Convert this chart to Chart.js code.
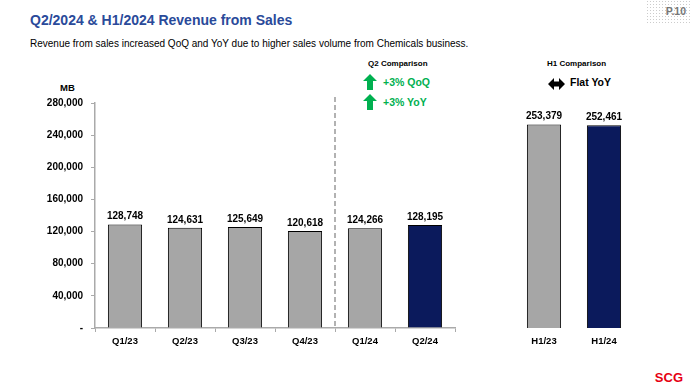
<!DOCTYPE html>
<html>
<head>
<meta charset="utf-8">
<script src="https://cdn.jsdelivr.net/npm/chart.js@4.4.0/dist/chart.umd.min.js"></script>
<style>
  body { margin: 0; width: 690px; height: 389px; background: #fff; font-family: Arial, "Liberation Sans", sans-serif; position: relative; overflow: hidden; }
  .abs { position: absolute; white-space: nowrap; }
  #title { left: 30px; top: 12px; font-size: 14px; font-weight: bold; color: #2a4a9a; }
  #sub { left: 30px; top: 38px; font-size: 10px; color: #000; }
  #page { right: 0; top: 0; width: 44px; height: 24px; font-size: 10.5px; font-weight: bold; color: #777;
    background-image: radial-gradient(#ccc 0.8px, transparent 0.9px); background-size: 3px 3px; text-align: right; padding-right: 4px; line-height: 22px; box-sizing: border-box; }
  #scg { right: 7px; top: 370px; font-size: 13px; font-weight: bold; color: #e60012; }
  #mb { left: 60px; top: 82px; font-size: 9.5px; font-weight: bold; }
  .cmp { font-size: 8px; font-weight: bold; color: #000; }
  .grn { font-size: 10.5px; font-weight: bold; color: #00b050; }
  .blk { font-size: 10.5px; font-weight: bold; color: #000; }
  canvas { position: absolute; top: 0; }
</style>
</head>
<body>
<div class="abs" id="title">Q2/2024 &amp; H1/2024 Revenue from Sales</div>
<div class="abs" id="sub">Revenue from sales increased QoQ and YoY due to higher sales volume from Chemicals business.</div>
<div class="abs" id="page">P.10</div>
<div class="abs" id="mb">MB</div>
<div class="abs cmp" style="left:368px; top:59px;">Q2 Comparison</div>
<div class="abs" style="left:363px; top:74px;"><svg width="14" height="16"><polygon points="7,0 14,7 10,7 10,16 4,16 4,7 0,7" fill="#00b050"/></svg></div>
<div class="abs grn" style="left:383px; top:76px;">+3% QoQ</div>
<div class="abs" style="left:363px; top:94px;"><svg width="14" height="16"><polygon points="7,0 14,7 10,7 10,16 4,16 4,7 0,7" fill="#00b050"/></svg></div>
<div class="abs grn" style="left:383px; top:96px;">+3% YoY</div>
<div class="abs cmp" style="left:547px; top:59px;">H1 Comparison</div>
<div class="abs" style="left:548px; top:76px;"><svg width="17" height="12"><polygon points="0,6 6,0 6,3.5 11,3.5 11,0 17,6 11,12 11,8.5 6,8.5 6,12" fill="#000"/></svg></div>
<div class="abs blk" style="left:570px; top:76px;">Flat YoY</div>
<div class="abs" id="scg">SCG</div>

<canvas id="qChart" style="left:0;"></canvas>
<canvas id="hChart" style="left:470px;"></canvas>

<script>
var quarterLabels = ["Q1/23", "Q2/23", "Q3/23", "Q4/23", "Q1/24", "Q2/24"];
var quarterValues = [128748, 124631, 125649, 120618, 124266, 128195];
var halfLabels = ["H1/23", "H1/24"];
var halfValues = [253379, 252461];
var yTicks = [0, 40000, 80000, 120000, 160000, 200000, 240000, 280000];

var gray = "#a6a6a6";
var navy = "#0b1a5c";
var fontFam = "Arial, 'Liberation Sans', sans-serif";

function fmt(v) {
    return v.toLocaleString("en-US");
}

// value labels above each bar
var valueLabels = {
    id: "valueLabels",
    afterDatasetsDraw: function (chart) {
        var ctx = chart.ctx;
        var meta = chart.getDatasetMeta(0);
        ctx.save();
        ctx.font = "bold 10px " + fontFam;
        ctx.fillStyle = "#000";
        ctx.textAlign = "center";
        ctx.textBaseline = "bottom";
        meta.data.forEach(function (bar, i) {
            ctx.fillText(fmt(chart.data.datasets[0].data[i]), bar.x, bar.y - 3);
        });
        ctx.restore();
    }
};

// dashed divider between Q4/23 and Q1/24
var divider = {
    id: "divider",
    afterDraw: function (chart) {
        var x = chart.scales.x;
        var y = chart.scales.y;
        var px = (x.getPixelForValue(3) + x.getPixelForValue(4)) / 2;
        var ctx = chart.ctx;
        ctx.save();
        ctx.strokeStyle = "#999";
        ctx.lineWidth = 1.5;
        ctx.setLineDash([5, 3]);
        ctx.beginPath();
        ctx.moveTo(px, y.top - 6);
        ctx.lineTo(px, y.bottom);
        ctx.stroke();
        ctx.restore();
    }
};

function makeOptions(showY, pad) {
    return {
        responsive: false,
        animation: false,
        layout: { padding: pad },
        plugins: { legend: { display: false }, tooltip: { enabled: false } },
        scales: {
            x: {
                grid: { display: showY, drawOnChartArea: false, drawTicks: true, tickLength: 4, color: "#aaa", offset: true },
                border: { display: showY, color: "#aaa", width: 1.5 },
                ticks: { color: "#000", font: { family: fontFam, size: 9.5, weight: "bold" }, padding: 4 },
                afterFit: function (s) { s.height = 30; }
            },
            y: {
                display: showY,
                min: 0,
                max: 280000,
                afterBuildTicks: function (s) { s.ticks = yTicks.map(function (v) { return { value: v }; }); },
                grid: { display: true, drawOnChartArea: false, tickLength: 4, color: "#aaa" },
                border: { display: true, color: "#aaa", width: 1.5 },
                ticks: {
                    color: "#000",
                    font: { family: fontFam, size: 10, weight: "bold" },
                    padding: 8,
                    callback: function (v) { return v === 0 ? "-" : fmt(v); }
                },
                afterFit: function (s) { s.width = showY ? 95 - pad.left : 0; }
            }
        }
    };
}

var qCanvas = document.getElementById("qChart");
qCanvas.width = 470; qCanvas.height = 389;
new Chart(qCanvas, {
    type: "bar",
    data: {
        labels: quarterLabels,
        datasets: [{
            data: quarterValues,
            backgroundColor: quarterLabels.map(function (l, i) { return i === quarterLabels.length - 1 ? navy : gray; }),
            borderColor: "#000",
            borderWidth: 1,
            categoryPercentage: 1,
            barPercentage: 0.57
        }]
    },
    options: makeOptions(true, { left: 0, right: 15, top: 103, bottom: 31 }),
    plugins: [valueLabels, divider]
});

var hCanvas = document.getElementById("hChart");
hCanvas.width = 220; hCanvas.height = 389;
new Chart(hCanvas, {
    type: "bar",
    data: {
        labels: halfLabels,
        datasets: [{
            data: halfValues,
            backgroundColor: [gray, navy],
            borderColor: "#000",
            borderWidth: 1,
            categoryPercentage: 1,
            barPercentage: 0.57
        }]
    },
    options: makeOptions(false, { left: 44, right: 56, top: 103, bottom: 31 }),
    plugins: [valueLabels]
});
</script>
</body>
</html>
